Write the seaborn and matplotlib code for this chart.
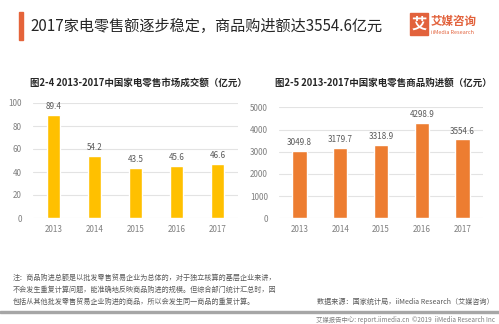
import matplotlib
matplotlib.use("Agg")
import matplotlib.pyplot as plt
import seaborn as sns
import pandas as pd
from matplotlib.patches import Rectangle

years = ["2013", "2014", "2015", "2016", "2017"]
market_turnover = [89.4, 54.2, 43.5, 45.6, 46.6]
purchase_amount = [3049.8, 3179.7, 3318.9, 4298.9, 3554.6]
left_yticks = [0, 20, 40, 60, 80, 100]
right_yticks = [0, 1000, 2000, 3000, 4000, 5000]

title = "2017家电零售额逐步稳定，商品购进额达3554.6亿元"
sub_left = "图2-4 2013-2017中国家电零售市场成交额（亿元）"
sub_right = "图2-5 2013-2017中国家电零售商品购进额（亿元）"
notes = [
    "注：商品购进总额是以批发零售贸易企业为总体的，对于独立核算的基层企业来讲，",
    "不会发生重复计算问题，能准确地反映商品购进的规模。但综合部门统计汇总时，因",
    "包括从其他批发零售贸易企业购进的商品，所以会发生同一商品的重复计算。",
]
source = "数据来源：国家统计局，iiMedia Research（艾媒咨询）"
footer = "艾媒报告中心: report.iimedia.cn  ©2019  iiMedia Research Inc"

sns.set_theme(style="white")
plt.rcParams['font.family'] = ['Noto Sans CJK SC', 'DejaVu Sans']

W, H = 499, 324
fig = plt.figure(figsize=(W / 100, H / 100), dpi=100)

def fx(px):
    return px / W

def fy(py):
    return 1 - py / H

TICK = "#7f7f7f"
LAB = "#595959"

def draw(ax, vals, color, yticks, width, fmt):
    df = pd.DataFrame({"year": years, "v": vals})
    sns.barplot(data=df, x="year", y="v", color=color, width=width, ax=ax,
                saturation=1, errorbar=None)
    ax.set_ylim(yticks[0], yticks[-1])
    ax.set_xlim(-0.5, len(years) - 0.5)
    ax.set_yticks(yticks)
    ax.set_xlabel("")
    ax.set_ylabel("")
    for s in ax.spines.values():
        s.set_visible(False)
    ax.yaxis.grid(True, color="#e3e3e3", linewidth=0.8)
    ax.set_axisbelow(True)
    ax.tick_params(axis="both", length=0, labelsize=5.8, labelcolor=TICK)
    ax.tick_params(axis="y", pad=8)
    ax.tick_params(axis="x", pad=5)
    rng = yticks[-1] - yticks[0]
    for i, v in enumerate(vals):
        ax.text(i, v + rng * 0.035, fmt(v), ha="center", va="bottom",
                fontsize=5.8, color=LAB)

axL = fig.add_axes([fx(33), fy(218), fx(205), (218 - 103) / H])
draw(axL, market_turnover, "#ffc000", left_yticks, 0.31, lambda v: f"{v:.1f}")
axR = fig.add_axes([fx(279), fy(218.3), fx(204), (218.3 - 107.3) / H])
draw(axR, purchase_amount, "#ed7d31", right_yticks, 0.35, lambda v: f"{v:.1f}")

# header
fig.add_artist(Rectangle((fx(19), fy(40)), fx(4), 28 / H, color="#e5643a",
                         transform=fig.transFigure))
fig.text(fx(30), fy(26), title, fontsize=10.9, color="#262626", va="center", ha="left")
# logo
fig.add_artist(Rectangle((fx(410), fy(35)), fx(18), 22 / H, color="#e2623c",
                         transform=fig.transFigure))
fig.text(fx(419), fy(24), "艾", fontsize=11, color="white", ha="center", va="center",
         fontweight="bold")
fig.text(fx(431), fy(21), "艾媒咨询", fontsize=8.3, color="#e2623c", ha="left",
         va="center", fontweight="bold")
fig.text(fx(431), fy(32.5), "iiMedia Research", fontsize=3.9, color="#e2623c",
         ha="left", va="center")

fig.text(fx(138), fy(83), sub_left, fontsize=6.8, fontweight="bold", color="#262626",
         ha="center", va="center")
fig.text(fx(383), fy(83), sub_right, fontsize=6.8, fontweight="bold", color="#262626",
         ha="center", va="center")

# notes
for k, line in enumerate(notes):
    fig.text(fx(13), fy(278 + 12 * k), line, fontsize=5.1, color=LAB,
             ha="left", va="center")
fig.text(fx(494), fy(302), source, fontsize=5.1, color=LAB, ha="right", va="center")
fig.add_artist(Rectangle((0, fy(313.2)), 1, 2.5 / H, color="#a6a6a6",
                         transform=fig.transFigure))
fig.text(fx(495), fy(319.5), footer, fontsize=4.6, color="#7f7f7f", ha="right",
         va="center")

fig.savefig("out.png", dpi=100)
